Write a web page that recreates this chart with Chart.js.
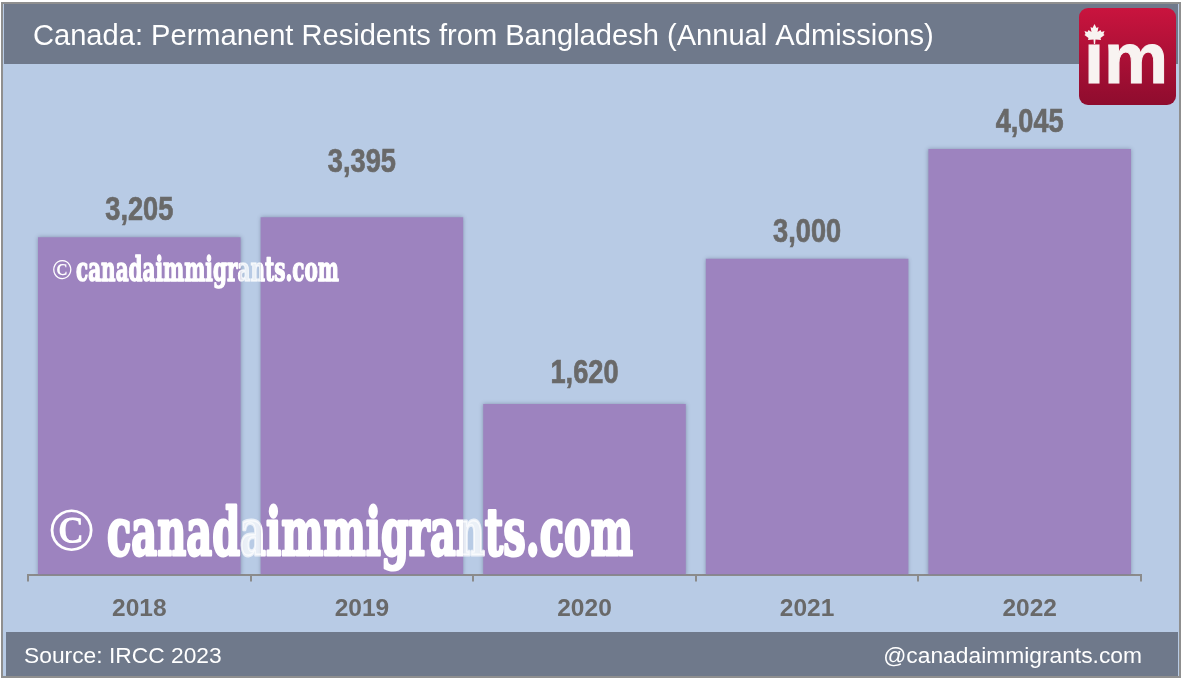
<!DOCTYPE html>
<html>
<head>
<meta charset="utf-8">
<title>Canada: Permanent Residents from Bangladesh</title>
<script src="https://cdn.jsdelivr.net/npm/chart.js@4"></script>
<style>
  html, body { margin: 0; padding: 0; background: #fff; overflow: hidden; }
  canvas { display: block; }
</style>
</head>
<body>
<canvas id="chart" width="1182" height="678"></canvas>
<script>
// ─── Data ────────────────────────────────────────────
var years = ['2018', '2019', '2020', '2021', '2022'];
var admissions = [3205, 3395, 1620, 3000, 4045];

var titleText = 'Canada: Permanent Residents from Bangladesh (Annual Admissions)';
var sourceText = 'Source: IRCC 2023';
var handleText = '@canadaimmigrants.com';
var markText = 'canadaimmigrants.com';

// ─── Colours ─────────────────────────────────────────
var SANS = '"Liberation Sans", Arial, sans-serif';
var SERIF = '"Liberation Serif", "Times New Roman", serif';
var FAT = '"DejaVu Serif", serif';
var BG = '#b8cbe5';
var BAND = '#6f798b';
var BAR = '#9d83bf';
var GREY = '#696969';
var AXIS = '#8b8b8b';

// ─── Frame, header and footer ────────────────────────
var framePlugin = {
  id: 'frame',
  beforeDraw: function(chart) {
    var c = chart.ctx;
    c.save();
    c.fillStyle = '#ffffff';
    c.fillRect(0, 0, 1182, 678);
    c.fillStyle = BG;
    c.fillRect(2, 2, 1178, 675);
    c.fillStyle = BAND;
    c.fillRect(4, 4, 1174, 60);
    c.fillRect(6, 632, 1172, 44);
    c.strokeStyle = '#8f8f8f';
    c.lineWidth = 2;
    c.strokeRect(2, 3, 1178, 674);

    c.fillStyle = '#ffffff';
    c.textBaseline = 'alphabetic';
    c.font = '29.1px ' + SANS;
    c.textAlign = 'left';
    c.fillText(titleText, 33, 45);
    c.font = '22.8px ' + SANS;
    c.fillText(sourceText, 24, 663);
    c.textAlign = 'right';
    c.fillText(handleText, 1142, 663);
    c.restore();
  }
};

// soft shadow round the bars
var shadowPlugin = {
  id: 'barShadow',
  beforeDatasetsDraw: function(chart) {
    var c = chart.ctx;
    c.save();
    c.shadowColor = 'rgba(70,80,110,.45)';
    c.shadowBlur = 4;
  },
  afterDatasetsDraw: function(chart) {
    chart.ctx.restore();
  }
};

// ─── Value labels (condensed bold) ───────────────────
var valuePlugin = {
  id: 'values',
  afterDatasetsDraw: function(chart) {
    var c = chart.ctx;
    chart.getDatasetMeta(0).data.forEach(function(bar, i) {
      // the 2019 label floats well above its bar in the original
      var lift = i === 1 ? 45 : (i === 2 ? 21 : 17);
      c.save();
      c.translate(bar.x, bar.y - lift);
      c.scale(0.8, 1);
      c.font = 'bold 34px ' + SANS;
      c.fillStyle = GREY;
      c.strokeStyle = GREY;
      c.lineWidth = 0.7;
      c.textAlign = 'center';
      c.textBaseline = 'alphabetic';
      c.fillText(admissions[i].toLocaleString('en-US'), 0, 0);
      c.strokeText(admissions[i].toLocaleString('en-US'), 0, 0);
      c.restore();
    });
  }
};

// ─── Watermarks ──────────────────────────────────────
function drawMark(c, x, base, textX, k, copySize) {
  c.fillStyle = '#ffffff';
  c.strokeStyle = '#ffffff';
  c.lineJoin = 'round';
  c.textBaseline = 'alphabetic';
  c.textAlign = 'left';

  c.font = 'bold ' + copySize + 'px ' + SERIF;
  c.fillText('\u00A9', x, base - 5 * k);

  c.save();
  c.font = 'bold 66px ' + FAT;
  var w = c.measureText(markText).width;
  c.translate(textX, base);
  c.scale(526 * k / w, k);
  c.lineWidth = 3;
  c.fillText(markText, 0, 0);
  c.strokeText(markText, 0, 0);
  c.restore();
}

function drawMarks(c) {
  drawMark(c, 52, 281, 76, 0.5, 27);
  drawMark(c, 48, 555, 107, 1, 62);
}

var markPlugin = {
  id: 'marks',
  afterDatasetsDraw: function(chart) {
    var c = chart.ctx;
    var bars = chart.getDatasetMeta(0).data;

    // solid white on the bars
    c.save();
    c.beginPath();
    bars.forEach(function(b) { c.rect(b.x - b.width / 2, b.y, b.width, b.base - b.y); });
    c.clip();
    drawMarks(c);
    c.restore();

    // slightly see-through in the gaps
    c.save();
    c.beginPath();
    c.rect(0, 0, 1182, 678);
    bars.forEach(function(b) { c.rect(b.x - b.width / 2, b.y, b.width, b.base - b.y); });
    c.clip('evenodd');
    c.globalAlpha = 0.7;
    drawMarks(c);
    c.restore();
  }
};

// ─── Logo ────────────────────────────────────────────
function drawLeaf(c, cx, cy, s) {
  var pts = [[0,-10],[2,-6],[4,-7],[3,-2],[6,-4],[7,-2],[10,-3],[9,0],[10,1],[6,4],[6.5,6],[1,5.5],[0.6,10],
             [-0.6,10],[-1,5.5],[-6.5,6],[-6,4],[-10,1],[-9,0],[-10,-3],[-7,-2],[-6,-4],[-3,-2],[-4,-7],[-2,-6]];
  c.beginPath();
  pts.forEach(function(p, i) {
    if (i === 0) c.moveTo(cx + p[0] * s, cy + p[1] * s);
    else c.lineTo(cx + p[0] * s, cy + p[1] * s);
  });
  c.closePath();
  c.fill();
}

var logoPlugin = {
  id: 'logo',
  afterDraw: function(chart) {
    var c = chart.ctx;
    c.save();
    var g = c.createLinearGradient(0, 8, 0, 104);
    g.addColorStop(0, '#c9143e');
    g.addColorStop(1, '#8f0c2e');
    c.fillStyle = g;
    c.beginPath();
    c.roundRect(1079, 8, 97, 97, 9);
    c.fill();

    c.fillStyle = '#f8f3f1';
    c.strokeStyle = '#f8f3f1';
    c.lineWidth = 1;
    c.font = 'bold 72px ' + SANS;
    c.textAlign = 'left';
    c.textBaseline = 'alphabetic';
    c.fillText('\u0131m', 1084, 83);
    c.strokeText('\u0131m', 1084, 83);
    drawLeaf(c, 1094.5, 34, 1);
    c.restore();
  }
};

// ─── Chart ───────────────────────────────────────────
new Chart(document.getElementById('chart').getContext('2d'), {
  type: 'bar',
  data: {
    labels: years,
    datasets: [{
      data: admissions,
      backgroundColor: BAR,
      borderWidth: 0,
      barPercentage: 0.91,
      categoryPercentage: 1
    }]
  },
  options: {
    responsive: false,
    animation: false,
    layout: { padding: { left: 28, right: 41, top: 101, bottom: 41 } },
    plugins: { legend: { display: false }, tooltip: { enabled: false } },
    scales: {
      x: {
        border: { color: AXIS, width: 2 },
        grid: { drawOnChartArea: false, drawTicks: true, tickLength: 7, color: AXIS, lineWidth: 2 },
        ticks: { color: GREY, font: { family: SANS, size: 24.5, weight: 'bold' }, padding: 13, maxRotation: 0 }
      },
      y: { display: false, min: 0, max: 4500 }
    }
  },
  plugins: [framePlugin, shadowPlugin, valuePlugin, markPlugin, logoPlugin]
});
</script>
</body>
</html>
